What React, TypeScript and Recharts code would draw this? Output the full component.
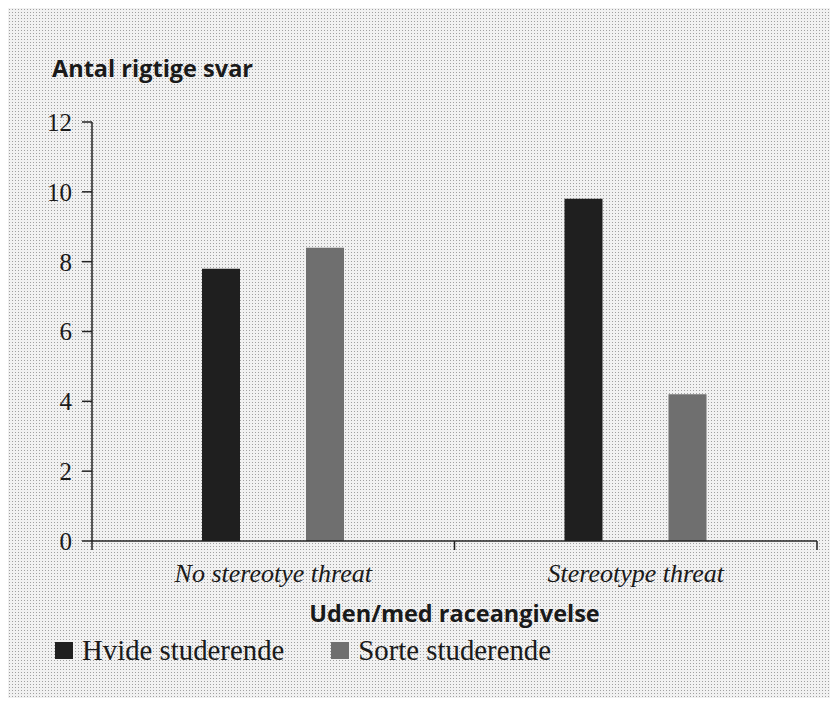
import React from "react";
import { BarChart, Bar, XAxis, YAxis, Legend, Label } from "recharts";

const categories = ["No stereotye threat", "Stereotype threat"];
const hvide = [7.8, 9.8];
const sorte = [8.4, 4.2];
const yTicks = [0, 2, 4, 6, 8, 10, 12];

const seriesNames = { hvide: "Hvide studerende", sorte: "Sorte studerende" };
const DARK = "#1f1f1f";
const GREY = "#6f6f6f";
const SERIF = "'Liberation Serif', 'Times New Roman', serif";
const SANS = "'Open Sans', 'DejaVu Sans', sans-serif";

const data = categories.map((c, i) => ({ name: c, hvide: hvide[i], sorte: sorte[i] }));

// category label centred in the band, small tick marks at band edges
function CategoryTick(props: any) {
  const { x, y, payload, index } = props;
  const off = payload?.offset ?? 0;
  return (
    <g>
      <line x1={x - off} x2={x - off} y1={y} y2={y + 9} stroke="#222" strokeWidth={1.5} />
      {index === categories.length - 1 && (
        <line x1={x + off} x2={x + off} y1={y} y2={y + 9} stroke="#222" strokeWidth={1.5} />
      )}
      <text x={x} y={y + 41} textAnchor="middle" fontFamily={SERIF} fontStyle="italic" fontSize={26} fill="#1a1a1a">
        {payload.value}
      </text>
    </g>
  );
}

function LegendContent() {
  const items = [
    { label: seriesNames.hvide, color: DARK },
    { label: seriesNames.sorte, color: GREY },
  ];
  return (
    <div style={{ display: "flex", alignItems: "center", gap: 47 }}>
      {items.map((it) => (
        <div key={it.label} style={{ display: "flex", alignItems: "center" }}>
          <span style={{ width: 18, height: 17, background: it.color, display: "inline-block", marginRight: 9 }} />
          <span style={{ fontFamily: SERIF, fontSize: 28.8, color: "#1a1a1a", lineHeight: "28px", whiteSpace: "nowrap" }}>
            {it.label}
          </span>
        </div>
      ))}
    </div>
  );
}

export default function App() {
  return (
    <div
      style={{
        position: "relative",
        width: 822,
        height: 690,
        backgroundColor: "#f1f1f1",
        backgroundImage: "radial-gradient(#a0a0a0 0.7px, transparent 0.9px)",
        backgroundSize: "3px 3px",
      }}
    >
      <div
        style={{
          position: "absolute",
          left: 44,
          top: 49,
          fontFamily: SANS,
          fontWeight: 700,
          fontSize: 23.5,
          lineHeight: "23.5px",
          color: "#1a1a1a",
          whiteSpace: "nowrap",
        }}
      >
        Antal rigtige svar
      </div>
      <BarChart
        width={822}
        height={690}
        data={data}
        margin={{ top: 114, right: 13, left: 0, bottom: 67 }}
        barSize={38}
        barGap={66}
      >
        <YAxis
          width={84}
          domain={[0, 12]}
          ticks={yTicks}
          interval={0}
          tickSize={10}
          tickMargin={10}
          axisLine={{ stroke: "#222", strokeWidth: 1.5 }}
          tickLine={{ stroke: "#222", strokeWidth: 1.5 }}
          tick={{ fontFamily: SERIF, fontSize: 25, fill: "#1a1a1a" }}
        />
        <XAxis
          dataKey="name"
          height={90}
          tickSize={0}
          tickMargin={0}
          tickLine={false}
          axisLine={{ stroke: "#222", strokeWidth: 1.5 }}
          tick={<CategoryTick />}
          interval={0}
        >
          <Label
            content={(p: any) => {
              const vb = p.viewBox;
              return (
                <text
                  x={vb.x + vb.width / 2}
                  y={vb.y + 81}
                  textAnchor="middle"
                  fontFamily={SANS}
                  fontWeight={700}
                  fontSize={23.5}
                  fill="#1a1a1a"
                >
                  Uden/med raceangivelse
                </text>
              );
            }}
          />
        </XAxis>
        <Legend
          layout="horizontal"
          verticalAlign="middle"
          wrapperStyle={{ left: 47, top: 628, width: 650 }}
          content={() => <LegendContent />}
        />
        <Bar dataKey="hvide" name={seriesNames.hvide} fill={DARK} isAnimationActive={false} />
        <Bar dataKey="sorte" name={seriesNames.sorte} fill={GREY} isAnimationActive={false} />
      </BarChart>
    </div>
  );
}
